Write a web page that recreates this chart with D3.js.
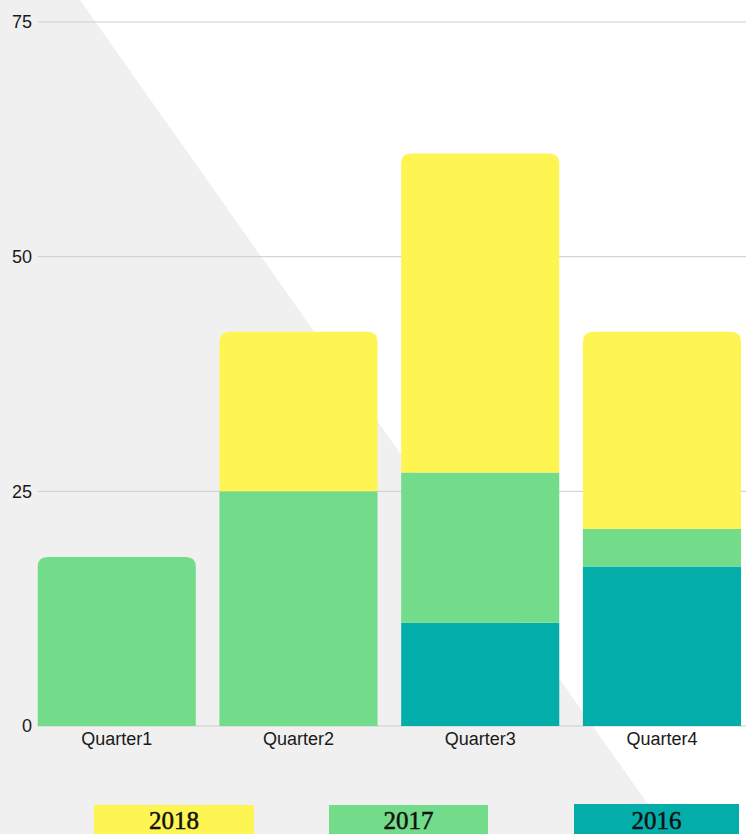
<!DOCTYPE html>
<html>
<head>
<meta charset="utf-8">
<script src="https://cdn.jsdelivr.net/npm/d3@7"></script>
<style>
  html, body { margin: 0; padding: 0; background: #fff; }
  svg { display: block; }
</style>
</head>
<body>
<svg id="chart" width="746" height="834"></svg>
<script>
// Quarterly totals, stacked by year (bottom to top: 2016, 2017, 2018)
const categories = ["Quarter1", "Quarter2", "Quarter3", "Quarter4"];
const years = ["2016", "2017", "2018"];
const values2016 = [0, 0, 11, 17];
const values2017 = [18, 25, 16, 4];
const values2018 = [0, 17, 34, 21];
const yTicks = [0, 25, 50, 75];
const legendOrder = ["2018", "2017", "2016"];

const colors = { "2016": "#03ada9", "2017": "#72dc8a", "2018": "#fff552" };

const W = 746, H = 834;
const svg = d3.select("#chart");

// diagonal backdrop
svg.append("path")
  .attr("d", `M0,0 L80,0 L669,${H} L0,${H} Z`)
  .attr("fill", "#f0f0f0");

const rows = categories.map((c, i) => ({
  category: c,
  "2016": values2016[i],
  "2017": values2017[i],
  "2018": values2018[i]
}));

const x = d3.scaleBand()
  .domain(categories)
  .range([37.7, 741])
  .paddingInner(0.13)
  .paddingOuter(0);

const y = d3.scaleLinear().domain([0, 75]).range([726, 22]);

// grid lines
svg.append("g")
  .selectAll("line")
  .data(yTicks.filter(t => t > 0))
  .join("line")
  .attr("x1", 38).attr("x2", W)
  .attr("y1", d => y(d)).attr("y2", d => y(d))
  .attr("stroke", "#cccccc").attr("stroke-width", 1);

// baseline
svg.append("line")
  .attr("x1", 38).attr("x2", W)
  .attr("y1", y(0)).attr("y2", y(0))
  .attr("stroke", "#cccccc");

// y labels
svg.append("g")
  .selectAll("text")
  .data(yTicks)
  .join("text")
  .attr("x", 32)
  .attr("y", d => y(d))
  .attr("dy", "0.35em")
  .attr("text-anchor", "end")
  .attr("font-family", "Liberation Sans, Arial, sans-serif")
  .attr("font-size", 18)
  .attr("fill", "#1a1a1a")
  .text(d => d);

const stack = d3.stack().keys(years);
const series = stack(rows);

// topmost non-empty segment per category gets rounded corners
const topKey = rows.map(r => {
  let k = null;
  years.forEach(yr => { if (r[yr] > 0) k = yr; });
  return k;
});

function segPath(x0, w, yTop, yBot, rounded) {
  const r = Math.min(10, (yBot - yTop) / 2, w / 2);
  if (!rounded) return `M${x0},${yBot}V${yTop}H${x0 + w}V${yBot}Z`;
  return `M${x0},${yBot}V${yTop + r}Q${x0},${yTop} ${x0 + r},${yTop}` +
    `H${x0 + w - r}Q${x0 + w},${yTop} ${x0 + w},${yTop + r}V${yBot}Z`;
}

svg.append("g")
  .selectAll("g")
  .data(series)
  .join("g")
  .attr("fill", s => colors[s.key])
  .selectAll("path")
  .data(s => s.map((d, i) => ({ key: s.key, d, i })))
  .join("path")
  .attr("d", o => {
    const v0 = o.d[0], v1 = o.d[1];
    if (v1 - v0 <= 0) return null;
    return segPath(x(categories[o.i]), x.bandwidth(), y(v1), y(v0), topKey[o.i] === o.key);
  });

// x labels
svg.append("g")
  .selectAll("text")
  .data(categories)
  .join("text")
  .attr("x", d => x(d) + x.bandwidth() / 2)
  .attr("y", 745)
  .attr("text-anchor", "middle")
  .attr("font-family", "Liberation Sans, Arial, sans-serif")
  .attr("font-size", 18)
  .attr("fill", "#1a1a1a")
  .text(d => d);

// legend boxes along the bottom edge
const legendBoxes = [
  { x: 94, y: 805, w: 160 },
  { x: 329, y: 805, w: 159 },
  { x: 574, y: 804, w: 165 }
];
const lg = svg.append("g")
  .selectAll("g")
  .data(legendOrder)
  .join("g")
  .attr("transform", (d, i) => `translate(${legendBoxes[i].x},${legendBoxes[i].y})`);
lg.append("rect")
  .attr("width", (d, i) => legendBoxes[i].w).attr("height", 40)
  .attr("fill", d => colors[d]);
lg.append("text")
  .attr("x", (d, i) => legendBoxes[i].w / 2)
  .attr("y", (d, i) => 829 - legendBoxes[i].y)
  .attr("text-anchor", "middle")
  .attr("font-family", "Liberation Serif, serif")
  .attr("font-size", 25)
  .attr("fill", "#111")
  .attr("stroke", "#111")
  .attr("stroke-width", 0.5)
  .text(d => d);
</script>
</body>
</html>
